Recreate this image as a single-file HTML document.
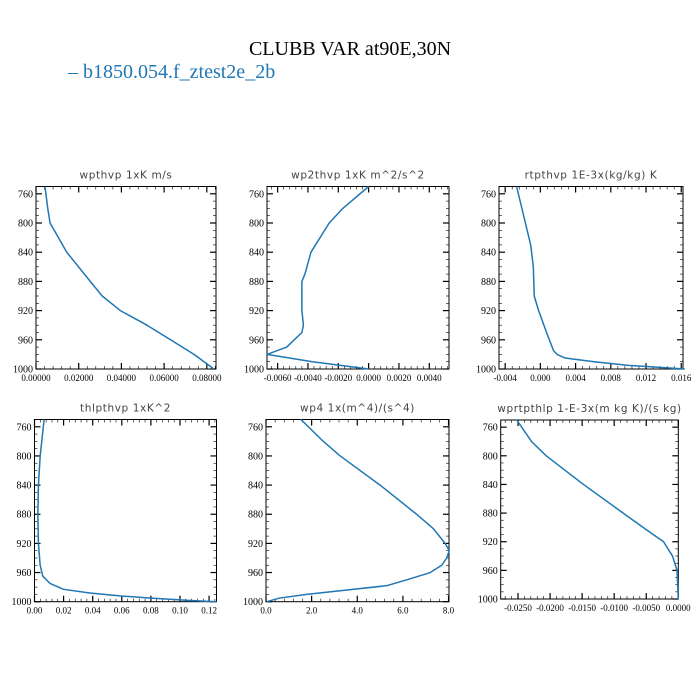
<!DOCTYPE html>
<html><head><meta charset="utf-8"><style>
html,body{margin:0;padding:0;background:#fff;}
svg{display:block;}
</style></head><body>
<svg id="fig" width="700" height="700" xmlns="http://www.w3.org/2000/svg">
<text x="350" y="55" text-anchor="middle" font-family="Liberation Serif, serif" font-size="20" fill="#000">CLUBB VAR at90E,30N</text>
<text x="68" y="78" font-family="Liberation Serif, serif" font-size="20" fill="#1f77b4">– b1850.054.f_ztest2e_2b</text>
</svg>
<script>
const levels1 = [750,780,800,840,880,900,920,940,960,980,1000];
const wpthvp = [0.0042,0.0055,0.0066,0.0144,0.0254,0.031,0.0395,0.052,0.063,0.074,0.0833];
const levels2 = [750,780,800,840,870,880,900,920,940,950,960,970,980,990,1000];
const wp2thvp = [0,-0.0017,-0.0026,-0.0038,-0.0042,-0.0044,-0.0044,-0.0044,-0.0043,-0.0044,-0.0049,-0.0054,-0.0067,-0.0037,0];
const levels3 = [750,800,830,860,900,920,950,975,980,985,990,995,1000];
const rtpthvp = [-0.0027,-0.0017,-0.0011,-0.0008,-0.0007,-0.0002,0.0007,0.0015,0.0019,0.0028,0.0061,0.010,0.0164];
const levels4 = [750,800,840,880,920,950,965,975,983,988,992,995,998,1000];
const thlpthvp = [0.0066,0.0039,0.0027,0.0023,0.0027,0.0039,0.0057,0.0107,0.0199,0.038,0.0587,0.079,0.104,0.125];
const levels5 = [750,780,800,840,880,900,920,930,940,950,960,970,978,985,990,995,1000];
const wp4 = [1.53,2.51,3.25,5.0,6.6,7.34,7.85,8.03,7.92,7.7,7.2,6.17,5.29,3.25,1.78,0.6,0.03];
const levels6 = [750,780,800,840,880,900,920,940,960,1000];
const wprtpthlp = [-0.0252,-0.0229,-0.0206,-0.0148,-0.0086,-0.0055,-0.0023,-0.0009,-0.0002,0];
const yTicks = [760,800,840,880,920,960,1000];
const ticks1 = ["0.00000","0.02000","0.04000","0.06000","0.08000"];
const ticks2 = ["-0.0060","-0.0040","-0.0020","0.0000","0.0020","0.0040"];
const ticks3 = ["-0.004","0.000","0.004","0.008","0.012","0.016"];
const ticks4 = ["0.00","0.02","0.04","0.06","0.08","0.10","0.12"];
const ticks5 = ["0.0","2.0","4.0","6.0","8.0"];
const ticks6 = ["-0.0250","-0.0200","-0.0150","-0.0100","-0.0050","0.0000"];

const NS="http://www.w3.org/2000/svg";
const svg=document.getElementById('fig');
function mk(tag,attrs,parent){const e=document.createElementNS(NS,tag);for(const k in attrs)e.setAttribute(k,attrs[k]);(parent||svg).appendChild(e);return e;}

const panels=[
 {name:'wpthvp',title:'wpthvp  1xK m/s',x0:36,x1:216,y0:186.5,y1:369,xmin:0,xmax:0.0843,lev:levels1,val:wpthvp,ticks:ticks1,minor:4},
 {name:'wp2thvp',title:'wp2thvp  1xK m^2/s^2',x0:267,x1:449,y0:186.5,y1:369,xmin:-0.0067,xmax:0.0053,lev:levels2,val:wp2thvp,ticks:ticks2,minor:4},
 {name:'rtpthvp',title:'rtpthvp  1E-3x(kg/kg) K',x0:499,x1:683,y0:186.5,y1:369,xmin:-0.0047,xmax:0.0162,lev:levels3,val:rtpthvp,ticks:ticks3,minor:4},
 {name:'thlpthvp',title:'thlpthvp  1xK^2',x0:34.5,x1:216.5,y0:419.5,y1:601.7,xmin:0,xmax:0.1251,lev:levels4,val:thlpthvp,ticks:ticks4,minor:4},
 {name:'wp4',title:'wp4  1x(m^4)/(s^4)',x0:266,x1:449,y0:419.5,y1:601.7,xmin:0,xmax:8.02,lev:levels5,val:wp4,ticks:ticks5,minor:4},
 {name:'wprtpthlp',title:'wprtpthlp  1-E-3x(m kg K)/(s kg)',x0:500.7,x1:678.3,y0:420,y1:599,xmin:-0.0277,xmax:0.0,lev:levels6,val:wprtpthlp,ticks:ticks6,minor:4},
];
panels.forEach(p=>{
 const g=mk('g',{});
 
 
 const sx=v=>p.x0+(v-p.xmin)/(p.xmax-p.xmin)*(p.x1-p.x0);
 const sy=v=>p.y0+(v-750)/(1000-750)*(p.y1-p.y0);
 const t=mk('text',{x:(p.x0+p.x1)/2,y:p.y0-8,'text-anchor':'middle','font-family':'DejaVu Sans, sans-serif','font-size':10.5,fill:'#444','letter-spacing':'0.6'},g);
 t.textContent=p.title;
 
 
 const b=mk('rect',{x:p.x0,y:p.y0,width:p.x1-p.x0,height:p.y1-p.y0,fill:'none',stroke:'#000','stroke-width':1},g);
 
 
 // y ticks
 for(let v=750;v<=1000;v+=10){
  const y=sy(v);const major=(v-760)%40===0;const L=major?6:3;
  mk('line',{x1:p.x0,x2:p.x0+L,y1:y,y2:y,stroke:'#000','stroke-width':major?1.2:0.6},g);
  mk('line',{x1:p.x1,x2:p.x1-L,y1:y,y2:y,stroke:'#000','stroke-width':major?1.2:0.6},g);
 }
 yTicks.forEach(v=>{
  const tl=mk('text',{x:p.x0-3,y:sy(v)+3.5,'text-anchor':'end','font-family':'Liberation Serif, serif','font-size':10,fill:'#000'},g);
  tl.textContent=v;
  
  
 });
 // x ticks
 const tv=p.ticks.map(Number);
 const step=tv[1]-tv[0];
 const ms=step/(p.minor+1);
 for(let v=tv[0]-ms*(p.minor+1);v<=p.xmax+1e-12;v+=ms){
  if(v<p.xmin-1e-12)continue;
  const x=sx(v);const k=Math.round((v-tv[0])/ms);const major=k%(p.minor+1)===0;const L=major?6:3;
  mk('line',{x1:x,x2:x,y1:p.y1,y2:p.y1-L,stroke:'#000','stroke-width':major?1.2:0.6},g);
  mk('line',{x1:x,x2:x,y1:p.y0,y2:p.y0+L,stroke:'#000','stroke-width':major?1.2:0.6},g);
 }
 p.ticks.forEach(s=>{
  const tl=mk('text',{x:sx(Number(s)),y:p.y1+12,'text-anchor':'middle','font-family':'Liberation Serif, serif','font-size':9,fill:'#000'},g);
  tl.textContent=s;
  
  
 });
 const d=p.val.map((v,i)=>(i?'L':'M')+sx(v).toFixed(2)+','+sy(p.lev[i]).toFixed(2)).join(' ');
 const path=mk('path',{d:d,fill:'none',stroke:'#1f77b4','stroke-width':1.5,'stroke-linejoin':'round'},g);
 
 
});
</script>
</body></html>
